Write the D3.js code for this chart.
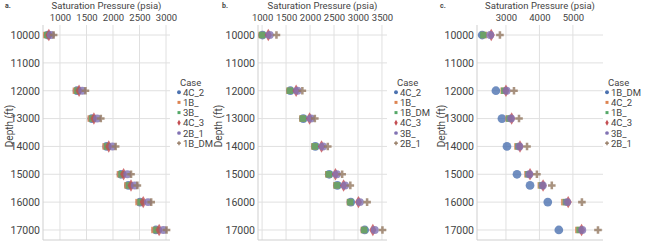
<!DOCTYPE html>
<html>
<head>
<meta charset="utf-8">
<script src="https://cdn.jsdelivr.net/npm/d3@7"></script>
<style>
  body { margin: 0; background: #fff; }
  text { font-family: Roboto, "Liberation Sans", sans-serif; fill: #444; }
</style>
</head>
<body>
<svg id="chart" width="654" height="245"></svg>
<script>

// depths shared by all panels (ft)
var depths = [10000, 12000, 13000, 14000, 15000, 15400, 16000, 17000];
var depthTicks = [10000, 11000, 12000, 13000, 14000, 15000, 16000, 17000];

// panel a
var casesA = ["4C_2", "1B_", "3B_", "4C_3", "2B_1", "1B_DM"];
var valuesA = [
  [770, 1320, 1600, 1880, 2150, 2290, 2510, 2810],
  [740, 1300, 1580, 1860, 2130, 2270, 2480, 2780],
  [760, 1330, 1610, 1890, 2160, 2300, 2520, 2820],
  [790, 1360, 1640, 1920, 2200, 2340, 2570, 2870],
  [830, 1420, 1700, 1990, 2270, 2410, 2660, 2950],
  [880, 1480, 1770, 2050, 2340, 2460, 2720, 3010]
];
var ticksA = [1000, 1500, 2000, 2500, 3000];

// panel b
var casesB = ["4C_2", "1B_", "1B_DM", "4C_3", "3B_", "2B_1"];
var valuesB = [
  [1010, 1590, 1860, 2110, 2400, 2570, 2850, 3140],
  [990, 1570, 1840, 2090, 2380, 2550, 2830, 3120],
  [1000, 1580, 1850, 2100, 2390, 2560, 2840, 3130],
  [1130, 1710, 1990, 2240, 2530, 2700, 3010, 3310],
  [1160, 1740, 2020, 2270, 2560, 2730, 3040, 3350],
  [1300, 1840, 2100, 2370, 2670, 2840, 3190, 3510]
];
var ticksB = [1000, 1500, 2000, 2500, 3000, 3500];

// panel c
var casesC = ["1B_DM", "4C_2", "1B_", "4C_3", "3B_", "2B_1"];
var valuesC = [
  [2290, 2700, 2880, 3030, 3330, 3720, 4250, 4580],
  [2340, 2930, 3080, 3340, 3640, 4040, 4740, 5160],
  [2320, 2950, 3100, 3370, 3670, 4070, 4790, 5200],
  [2560, 3000, 3170, 3420, 3720, 4110, 4860, 5260],
  [2530, 3020, 3150, 3400, 3700, 4100, 4830, 5280],
  [2820, 3240, 3390, 3630, 3925, 4370, 5270, 5750]
];
var ticksC = [3000, 4000, 5000];

// colours and markers go by legend position, not by case name
var colors = ["#4C72B0", "#DD8452", "#55A868", "#C44E52", "#8172B3", "#937860"];
var symbols = [d3.symbolCircle, d3.symbolSquare, d3.symbolSquare, d3.symbolDiamond, d3.symbolCircle, d3.symbolCross];
var sizes = [60, 42, 42, 45, 50, 32];
var legendSizes = [12, 9, 9, 10, 11, 9];

var svg = d3.select("#chart");

function panel(opt) {
  var g = svg.append("g");

  var x = d3.scaleLinear().domain(opt.xDomain).range([opt.left, opt.right]);
  var y = d3.scaleLinear().domain([9640, 17360]).range([25, 240]);

  // grid
  g.selectAll(".vgrid").data(opt.ticks).enter().append("line")
    .attr("x1", d => x(d)).attr("x2", d => x(d))
    .attr("y1", 25).attr("y2", 240)
    .attr("stroke", "#e0e0e0").attr("stroke-width", 1);
  g.selectAll(".hgrid").data(depthTicks).enter().append("line")
    .attr("x1", opt.left).attr("x2", opt.right)
    .attr("y1", d => y(d)).attr("y2", d => y(d))
    .attr("stroke", "#e0e0e0").attr("stroke-width", 1);

  // spines (left and bottom)
  g.append("line").attr("x1", opt.left).attr("x2", opt.left).attr("y1", 25).attr("y2", 240)
    .attr("stroke", "#cfcfcf");
  g.append("line").attr("x1", opt.left).attr("x2", opt.right).attr("y1", 240).attr("y2", 240)
    .attr("stroke", "#cfcfcf");

  // top axis
  var xAxis = d3.axisTop(x).tickValues(opt.ticks).tickSize(0).tickPadding(3).tickFormat(d3.format("d"));
  var xg = g.append("g").attr("transform", "translate(0,23.5)").call(xAxis);
  xg.select(".domain").remove();
  xg.selectAll("text").style("font-size", "9.5px").attr("fill", "#444");

  // left axis
  var yAxis = d3.axisLeft(y).tickValues(depthTicks).tickSize(0).tickPadding(3).tickFormat(d3.format("d"));
  var yg = g.append("g").attr("transform", "translate(" + opt.left + ",0)").call(yAxis);
  yg.select(".domain").remove();
  yg.selectAll("text").style("font-size", "10.5px").attr("fill", "#444");

  // titles
  g.append("text").attr("x", (opt.left + opt.right) / 2).attr("y", 8.5)
    .attr("text-anchor", "middle").style("font-size", "9.5px")
    .text("Saturation Pressure (psia)");
  g.append("text")
    .attr("transform", "translate(" + opt.ylabX + ",126) rotate(-90)")
    .attr("text-anchor", "middle").style("font-size", "10px")
    .text("Depth (ft)");
  g.append("text").attr("x", opt.tagX).attr("y", 8)
    .style("font-size", "7px").style("font-weight", "bold")
    .text(opt.tag);

  // points
  opt.cases.forEach(function(c, i) {
    g.selectAll(".pt" + i).data(opt.values[i]).enter().append("path")
      .attr("d", d3.symbol().type(symbols[i]).size(sizes[i]))
      .attr("transform", (d, j) => "translate(" + x(d) + "," + y(depths[j]) + ")")
      .attr("fill", colors[i]).attr("fill-opacity", 0.8);
  });

  // legend
  var lg = g.append("g").attr("transform", "translate(" + opt.legX + ",82)");
  lg.append("text").attr("x", 1).attr("y", 3.5).style("font-size", "9.5px").text("Case");
  opt.cases.forEach(function(c, i) {
    var yy = 10.2 * (i + 1);
    lg.append("path")
      .attr("d", d3.symbol().type(symbols[i]).size(legendSizes[i]))
      .attr("transform", "translate(0," + yy + ")")
      .attr("fill", colors[i]);
    lg.append("text").attr("x", 4).attr("y", yy + 3.5).style("font-size", "9.5px").text(c);
  });
}

panel({tag: "a.", tagX: 5, left: 43, right: 170, xDomain: [680, 3075], ticks: ticksA,
       cases: casesA, values: valuesA, legX: 179, ylabX: 13});
panel({tag: "b.", tagX: 222, left: 258, right: 387, xDomain: [915, 3605], ticks: ticksB,
       cases: casesB, values: valuesB, legX: 396, ylabX: 222});
panel({tag: "c.", tagX: 440, left: 477, right: 603, xDomain: [2135, 5900], ticks: ticksC,
       cases: casesC, values: valuesC, legX: 607, ylabX: 445});

</script>
</body>
</html>
